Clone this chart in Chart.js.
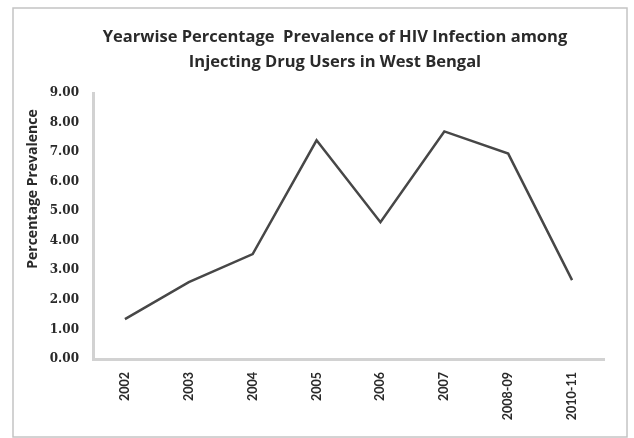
<!DOCTYPE html>
<html>
<head>
<meta charset="utf-8">
<script src="https://cdn.jsdelivr.net/npm/chart.js@4.4.1/dist/chart.umd.min.js"></script>
<style>
  html, body { margin: 0; padding: 0; background: #ffffff; }
  #wrap { width: 634px; height: 438px; position: relative; }
</style>
</head>
<body>
<div id="wrap"><canvas id="chart" width="634" height="438"></canvas></div>
<script>
// Survey periods and percentage prevalence of HIV among IDUs
const periods = ['2002', '2003', '2004', '2005', '2006', '2007', '2008-09', '2010-11'];
const prevalence = [1.35, 2.6, 3.55, 7.4, 4.63, 7.7, 6.95, 2.67];
const titleLines = ['Yearwise Percentage  Prevalence of HIV Infection among', 'Injecting Drug Users in West Bengal'];
const yAxisTitle = 'Percentage Prevalence';
const yMin = 0, yMax = 9, yStep = 1;

// Frame, heading and rotated axis caption
const decorations = {
  id: 'decorations',
  beforeDraw(chart) {
    const ctx = chart.ctx;
    ctx.save();
    ctx.fillStyle = '#ffffff';
    ctx.fillRect(0, 0, chart.width, chart.height);
    ctx.strokeStyle = '#c4c4c4';
    ctx.lineWidth = 1.5;
    ctx.strokeRect(13, 8, 614, 429);
    ctx.restore();
  },
  afterDraw(chart) {
    const ctx = chart.ctx;
    ctx.save();
    ctx.fillStyle = '#2a2a2a';
    ctx.textAlign = 'center';
    ctx.textBaseline = 'middle';
    ctx.font = 'bold 16.5px "Open Sans"';
    ctx.fillText(titleLines[0], 335, 37);
    ctx.fillText(titleLines[1], 335, 62);
    ctx.translate(33, 189);
    ctx.rotate(-Math.PI / 2);
    ctx.font = 'bold 14px "Open Sans"';
    ctx.fillText(yAxisTitle, 0, 0);
    ctx.restore();
  }
};

new Chart(document.getElementById('chart'), {
  type: 'line',
  data: {
    labels: periods,
    datasets: [{
      data: prevalence,
      borderColor: '#474747',
      borderWidth: 2.5,
      pointRadius: 0,
      tension: 0,
      fill: false
    }]
  },
  options: {
    responsive: false,
    animation: false,
    layout: { padding: { left: 0, top: 93, right: 30, bottom: 0 } },
    plugins: { legend: { display: false }, title: { display: false }, tooltip: { enabled: false } },
    scales: {
      x: {
        type: 'category',
        offset: true,
        grid: { display: false, drawTicks: false },
        border: { display: true, color: '#d2d2d2', width: 3 },
        ticks: {
          minRotation: 90,
          maxRotation: 90,
          padding: 13,
          color: '#2a2a2a',
          font: { family: 'Lato', weight: 'bold', size: 12.5 }
        },
        afterFit(scale) { scale.height = 79; }
      },
      y: {
        min: yMin,
        max: yMax,
        grid: { display: false, drawTicks: false },
        border: { display: true, color: '#d2d2d2', width: 3 },
        ticks: {
          stepSize: yStep,
          padding: 14,
          color: '#2a2a2a',
          font: { family: 'DejaVu Serif', weight: 'bold', size: 12 },
          callback: v => Number(v).toFixed(2)
        },
        afterFit(scale) { scale.width = 93; }
      }
    }
  },
  plugins: [decorations]
});
</script>
</body>
</html>
